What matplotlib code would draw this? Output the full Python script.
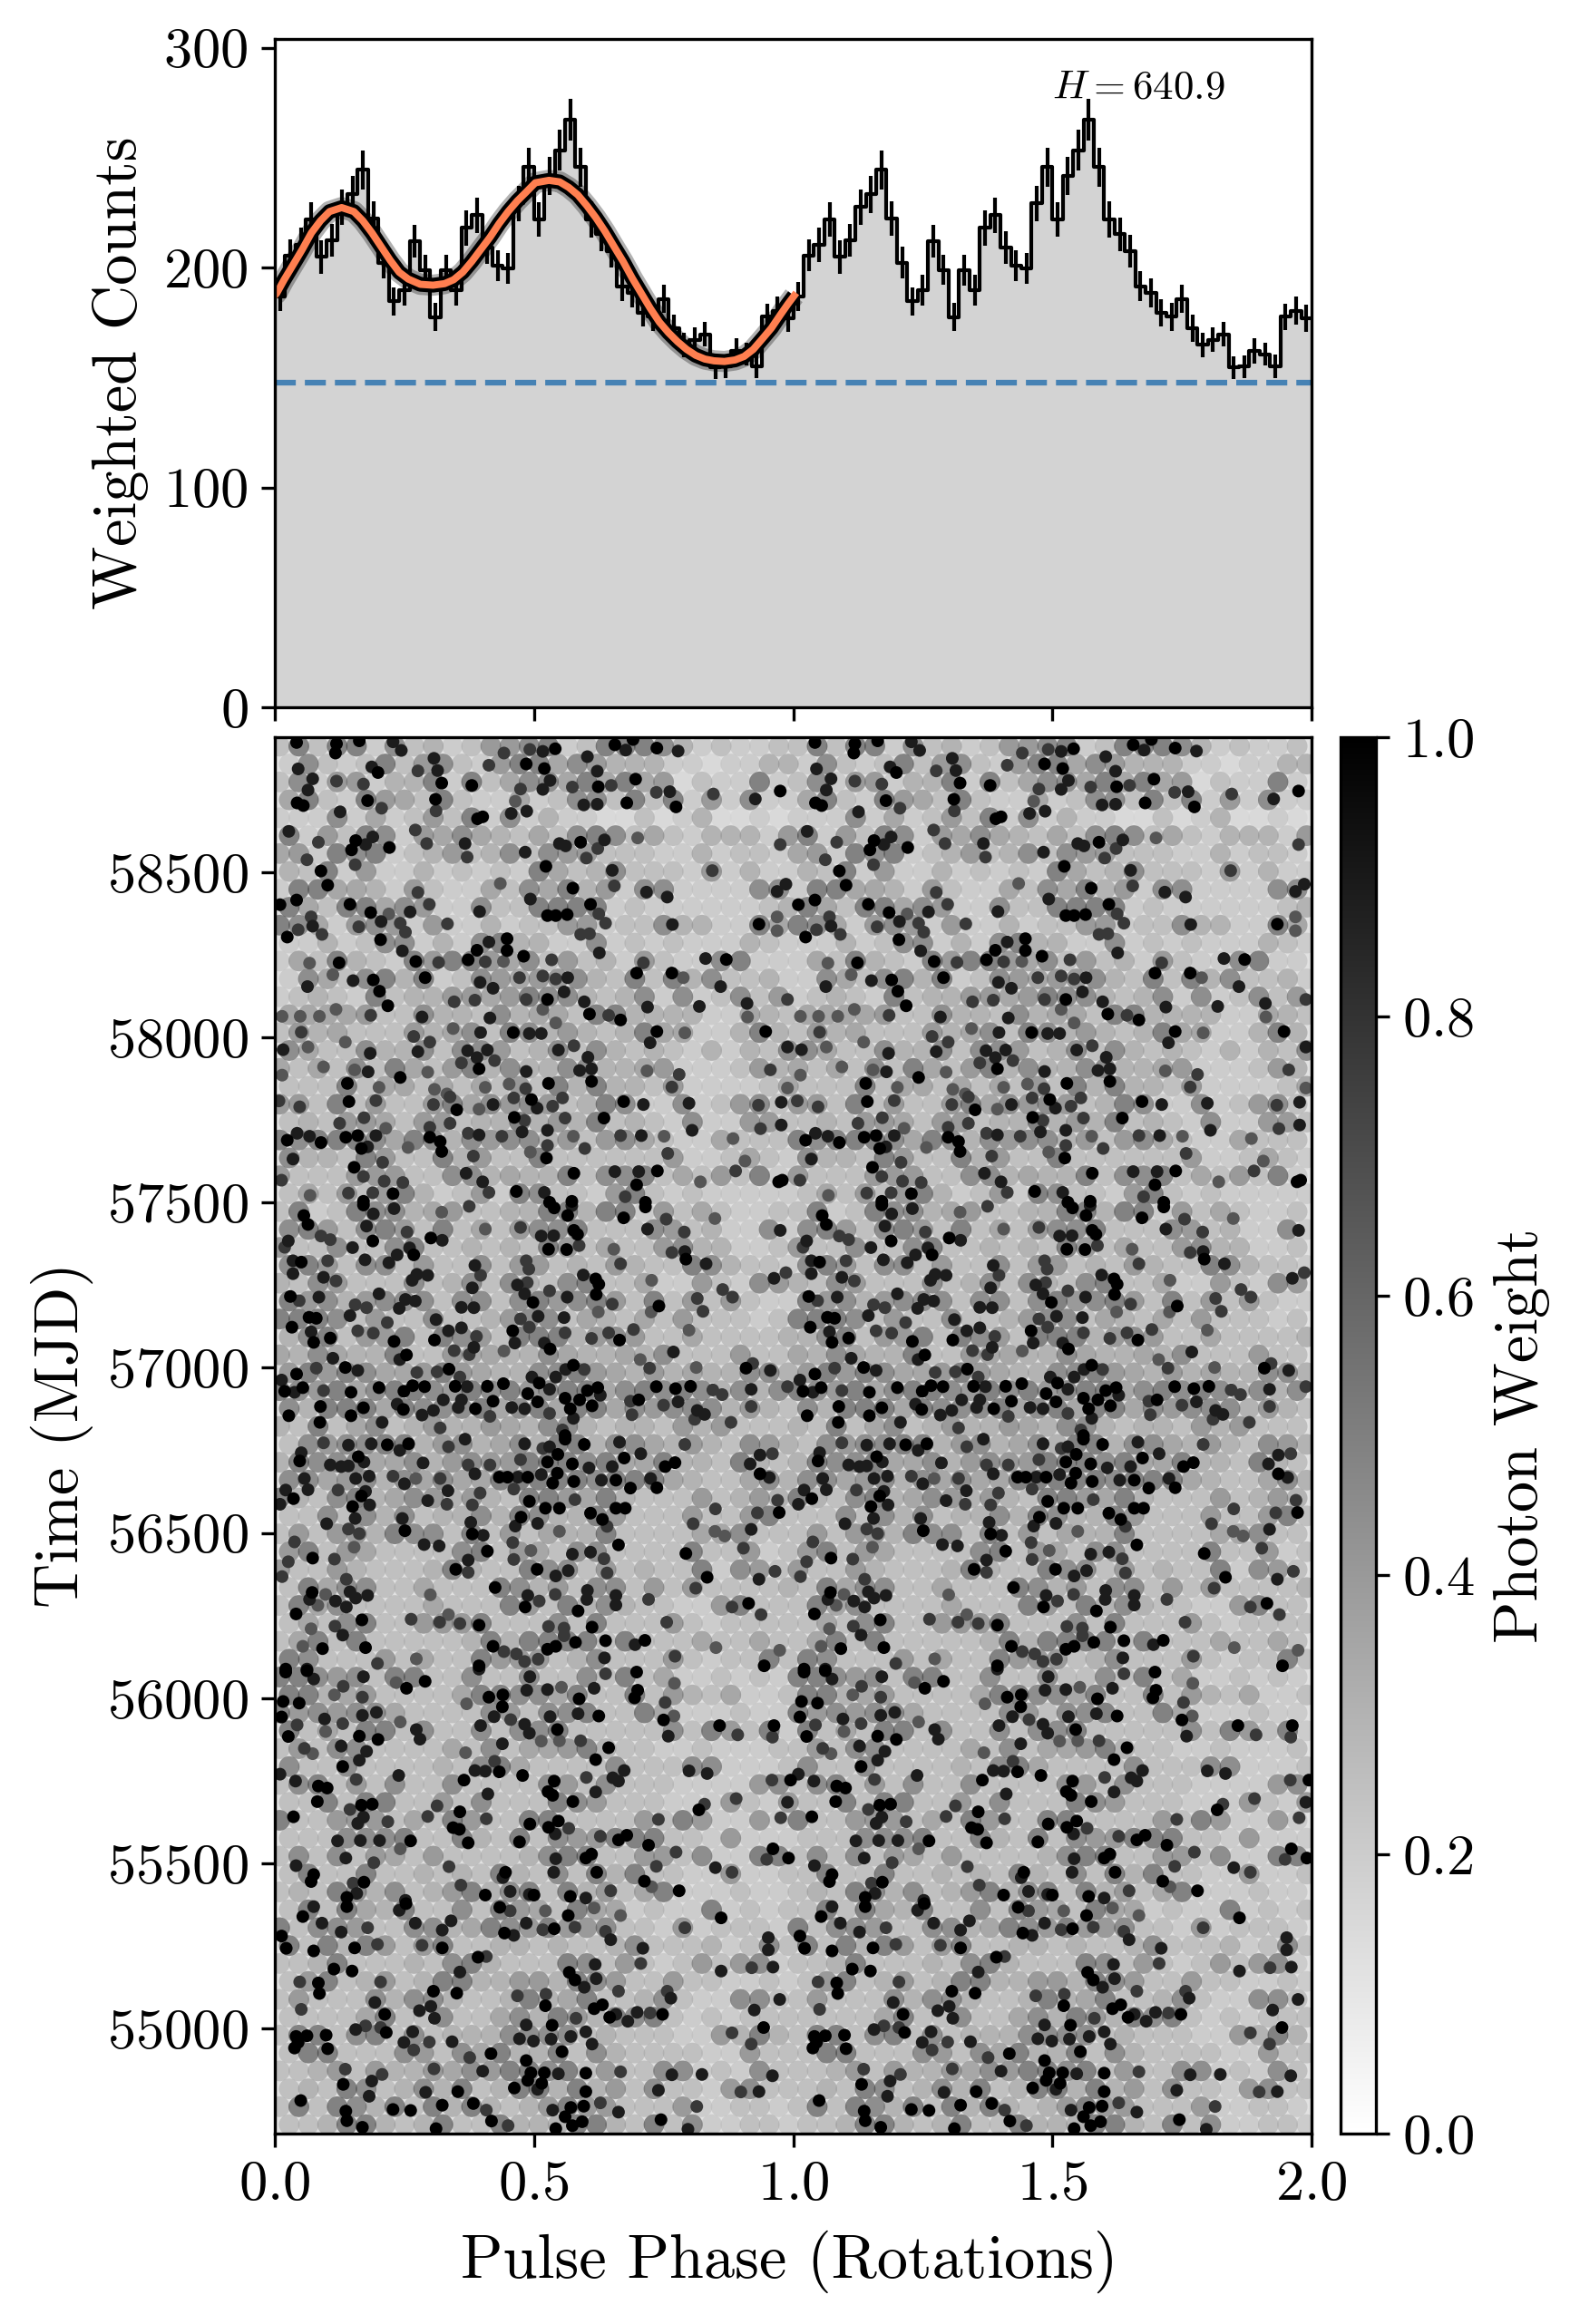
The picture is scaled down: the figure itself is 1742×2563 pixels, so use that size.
# pulse profile + photon phaseogram
import numpy as np
import matplotlib
matplotlib.use('Agg')
import matplotlib.pyplot as plt

plt.rcParams['font.family'] = 'cmr10'
plt.rcParams['mathtext.fontset'] = 'cm'
plt.rcParams['axes.formatter.use_mathtext'] = True
plt.rcParams['axes.unicode_minus'] = False

# weighted counts per bin, one rotation (50 bins), plotted twice
counts = [186.9, 205.5, 210.3, 221.9, 204.8, 212.4, 227.5, 233.3, 244.5, 222.2,
          202.3, 184.6, 189.7, 212.0, 199.0, 177.5, 199.0, 189.9, 218.0, 223.8,
          209.0, 200.7, 199.6, 229.2, 245.7, 221.8, 241.7, 253.3, 267.2, 245.7,
          221.9, 215.2, 207.6, 191.5, 188.7, 179.3, 177.7, 185.8, 172.5, 164.9,
          167.2, 169.7, 154.5, 155.0, 162.1, 160.5, 155.2, 177.7, 180.3, 177.0]
errs = [6.7, 7.2, 7.9, 7.9, 7.5, 7.5, 8.1, 8.3, 8.9, 7.9,
        7.2, 6.4, 7.0, 7.4, 6.7, 6.4, 7.0, 7.0, 7.9, 8.1,
        7.4, 7.0, 7.0, 8.1, 8.9, 7.9, 8.7, 9.3, 9.5, 9.0,
        8.3, 7.7, 7.4, 6.9, 6.6, 6.2, 6.4, 6.4, 6.2, 5.5,
        5.6, 5.6, 5.2, 5.2, 5.6, 5.2, 5.4, 6.0, 6.4, 6.2]
background = 147.7
h_text = r'$H = 640.9$'

# template fit
fit_phase = [0.0, 0.0035, 0.018, 0.0356, 0.053, 0.0706, 0.0881, 0.1056, 0.129, 0.1524,
             0.1699, 0.1874, 0.2049, 0.2224, 0.2399, 0.2574, 0.2807, 0.3053, 0.3275, 0.345,
             0.3625, 0.38, 0.3975, 0.4151, 0.4326, 0.4501, 0.4676, 0.4851, 0.5026, 0.5289,
             0.5494, 0.5669, 0.5844, 0.6019, 0.6194, 0.6369, 0.6544, 0.6719, 0.6895, 0.707,
             0.7245, 0.742, 0.7595, 0.777, 0.7945, 0.812, 0.8296, 0.8471, 0.8674, 0.8879,
             0.9054, 0.923, 0.9405, 0.958, 0.9755, 0.99, 1.0018]
fit_counts = [187.4, 188.3, 194.5, 201.4, 208.3, 215.8, 221.3, 225.5, 227.3, 225.5,
              221.3, 215.8, 209.6, 203.4, 197.9, 194.8, 192.4, 192.0, 192.7, 194.5,
              197.9, 202.8, 208.3, 213.8, 220.0, 225.5, 230.3, 234.4, 238.6, 239.7,
              239.0, 236.5, 233.1, 228.2, 222.7, 216.5, 209.6, 202.8, 195.2, 188.3,
              181.4, 175.2, 170.4, 166.3, 162.8, 160.1, 158.4, 157.6, 157.3, 158.0,
              159.6, 162.8, 167.6, 172.5, 178.6, 183.5, 187.2]

# faint photons: estimated weight per cell (digit/9), top row = latest MJD, one rotation
weight_rows = [
    "494993845347789349998534334", "384349478437996875553323355", "483773559394688696967243393",
    "694397649433634884949373833", "333836347493835332242352232", "937498376865464898464355537",
    "673989345745848774443353443", "549373353434396458444373533", "399665374336486957388333388",
    "964996873384499993433333345", "986378737335344773448553396", "335348835389553383434333543",
    "364954397997684745374338933",
    "386489593487677854949584453", "345439455776798854583834847", "666674485548566499555533654",
    "475644475684985754596633595", "864485584887458485454353548", "646484964795855885567333475",
    "444946646464749595547333346", "774947447968787459833834784", "454776477455957594543833774",
    "989998698587885747864336444", "855497449574494444447334643", "744477744885655948894647493",
    "464747953473984437943433333",
    "493498856744559959937464334", "897489749464788944487453383", "744844894454549746447855334",
    "897488474484774547544985443", "548744484584854894463374387", "978578884884897897494747433",
    "999847448445788465464744434", "589477949874999578744644445", "658655944766558655658444744",
    "797986679765588976575655885", "987968998798978996898985858", "859996988896896996878885754",
    "549468457557658854554757444",
    "487889957856859958865754875", "598896685787799989669554954", "886785868669999989996544685",
    "954895687575499769544474575", "448485845585985597444744794", "474775988494746559444466844",
    "794764444894764884444944734", "744754445954498847454493874", "496884464449857488474744445",
    "496844446444974958544337944", "464894477794448494447434444", "469494444459599994944464464",
    "984447464497774584447434494",
    "998784994484484484946334343", "995674444699886944947546334", "978788644448748894496333433",
    "946499484484889444448497493", "474884444648466795443343334", "844844445489644448444883334",
    "489474844844448748444333378", "449499447484449874443337437", "944777464974499444474973373",
    "444888944954948779994437333", "484847647444458994477483399", "494494454549548495944337334",
    "454985845795894957469333433",
    "494965944849764966343393434", "948874488569879778443734443", "949597479445545445844453484",
    "445944454895444984743474783", "479457459955775987447443343", "474448588544595694458433884",
    "444469448446859759894343444", "499489484555888845444337595", "499444874869559485444433744",
    "445747557687998947448834384", "454984585945995957484437844", "494985949595457977444733443",
    "445995459449555995494833443",
]

# bright photons read one by one: phase*1000, MJD, weight digit (x/9)
photons_58200 = [42,58893,9, 119,58889,9, 117,58861,9, 163,58898,9, 228,58895,8, 244,58869,8, 307,58845,8, 45,58813,8,
    73,58783,8, 64,58749,8, 199,58802,9, 187,58819,8, 119,58776,7, 171,58767,7, 314,58808,8, 276,58807,7, 322,58770,9,
    380,58763,9, 310,58721,9, 179,58717,9, 43,58710,9, 55,58702,9, 126,58683,8, 206,58694,7, 311,58686,7, 401,58668,9,
    391,58662,9, 413,58824,7, 442,58861,7, 485,58828,9, 520,58814,9, 517,58866,8, 541,58874,9, 492,58872,7, 603,58850,8,
    656,58886,9, 691,58902,9, 677,58870,8, 737,58876,9, 778,58867,8, 622,58806,8, 696,58782,9, 624,58759,9, 531,58778,8,
    517,58751,8, 474,58752,7, 649,58763,7, 574,58758,7, 679,58710,9, 596,58704,8, 622,58706,8, 774,58698,9, 762,58744,8,
    736,58742,7, 846,58737,7, 927,58722,8, 975,58746,9, 456,58678,8, 486,58685,8, 464,58715,6, 27,58624,8, 156,58596,9,
    189,58607,8, 175,58584,8, 148,58568,9, 221,58575,9, 84,58591,7, 62,58538,7, 89,58504,9, 155,58523,7, 102,58461,9,
    42,58416,9, 10,58402,9, 145,58403,9, 367,58587,8, 271,58628,7, 293,58587,7, 371,58546,7, 483,58561,8, 523,58518,9,
    549,58587,8, 561,58580,8, 590,58591,9, 636,58598,8, 623,58572,7, 601,58543,7, 651,58506,8, 655,58459,7, 575,58452,9,
    435,58466,6, 717,58440,8, 757,58425,8, 969,58442,8, 986,58464,8, 975,58584,7, 844,58505,7, 700,58604,6, 276,58439,7,
    298,58403,7, 261,58380,8, 185,58378,9, 205,58351,8, 220,58374,6, 70,58365,7, 73,58337,8, 45,58326,7, 24,58304,9,
    91,58312,7, 162,58335,7, 204,58296,9, 242,58346,7, 252,58319,7, 246,58262,8, 333,58344,7, 395,58381,8, 493,58419,8,
    609,58403,9, 526,58369,9, 542,58369,9, 564,58372,9, 625,58374,7, 638,58346,7, 590,58312,7, 607,58314,7, 767,58342,8,
    934,58343,9, 969,58365,6, 969,58323,6, 448,58299,9, 448,58263,9, 413,58289,8, 390,58264,9, 480,58246,9, 373,58235,9,
    406,58229,7, 441,58230,6, 272,58230,9, 124,58226,9, 67,58225,6, 316,58227,7, 534,58235,7, 626,58256,8, 711,58226,7,
    831,58239,8, 871,58236,9]
photons_57500 = [63,58154,8, 151,58172,8, 190,58174,9, 290,58181,9, 396,58167,8, 421,58149,8, 472,58181,7, 517,58186,7,
    565,58181,8, 542,58177,7, 698,58195,9, 766,58195,9, 788,58181,6, 860,58154,8, 112,58190,6, 202,58140,9, 218,58096,9,
    346,58108,7, 386,58113,7, 485,58115,7, 526,58115,9, 558,58138,8, 597,58108,8, 719,58092,8, 819,58094,8, 911,58103,8,
    989,58115,7, 14,58064,6, 49,58064,6, 86,58064,6, 118,58085,6, 185,58067,7, 284,58062,8, 415,58059,8, 517,58085,6,
    542,58044,6, 607,58071,9, 644,58067,7, 667,58053,9, 912,58062,6, 51,58016,7, 136,57986,6, 299,57986,7, 268,58003,7,
    344,58027,6, 397,58015,8, 460,58015,9, 491,58012,8, 514,58012,8, 577,57975,7, 737,58018,9, 791,58014,6, 947,58018,9,
    724,57984,8, 16,57963,8, 64,57971,6, 184,57952,8, 276,57957,8, 372,57960,8, 410,57962,8, 390,57939,8, 424,57930,7,
    547,57962,8, 604,57940,8, 989,57971,8, 94,57911,6, 180,57896,8, 154,57902,6, 242,57879,9, 394,57905,9, 360,57923,7,
    485,57897,8, 588,57900,8, 611,57905,8, 780,57888,7, 718,57899,6, 956,57902,7, 14,57886,6, 295,57895,6, 140,57861,9,
    201,57849,6, 406,57849,6, 452,57859,6, 484,57845,7, 528,57861,9, 611,57867,9, 766,57850,7, 308,57843,6, 332,57829,6,
    989,57847,6, 143,57806,9, 195,57809,7, 48,57790,7, 8,57808,7, 306,57797,7, 338,57820,7, 351,57781,9, 421,57797,8,
    394,57783,6, 461,57817,7, 495,57812,9, 506,57786,8, 555,57817,7, 536,57792,7, 673,57806,9, 711,57797,8, 799,57801,8,
    933,57795,7, 977,57804,8, 172,57757,7, 125,57740,7, 462,57758,9, 482,57749,7, 560,57756,7, 635,57756,9, 338,57740,7,
    299,57728,7, 214,57725,6, 977,57735,8, 805,57719,8, 937,57724,7, 24,57689,9, 43,57710,8, 67,57701,8, 89,57682,9,
    137,57698,9, 160,57703,9, 195,57703,8, 299,57698,9, 319,57685,9, 167,57664,9, 179,57669,8, 257,57667,6, 394,57705,8,
    438,57701,7, 477,57714,8, 526,57719,8, 576,57701,6, 667,57703,7, 707,57703,8, 751,57701,6, 884,57694,6, 526,57673,7,
    598,57664,7, 373,57710,7, 35,57632,8, 322,57655,9, 208,57622,7, 153,57607,9, 383,57641,7, 493,57653,6, 524,57635,9,
    758,57649,7, 907,57626,6, 13,57568,7, 171,57579,7, 211,57565,7, 247,57561,7, 369,57589,8, 401,57563,8, 577,57589,9,
    656,57594,8, 702,57594,8, 738,57596,9, 889,57596,7, 821,57563,6, 972,57563,9, 979,57568,9, 68,57522,6, 142,57529,7,
    189,57530,7, 228,57527,9, 413,57531,7, 466,57534,9, 520,57531,8, 698,57554,9, 676,57518,7, 171,57504,9, 530,57501,9,
    573,57504,9, 715,57501,9]
photons_56800 = [56,57461,9, 171,57493,9, 190,57466,8, 230,57482,8, 322,57471,6, 375,57489,7, 539,57484,9, 565,57461,9,
    573,57491,8, 673,57454,9, 715,57487,9, 755,57450,7, 849,57452,6, 64,57434,9, 177,57429,8, 255,57411,7, 301,57393,9,
    323,57386,8, 406,57420,6, 474,57425,7, 514,57399,8, 538,57400,8, 577,57416,9, 584,57404,9, 719,57420,8, 790,57411,7,
    975,57416,8, 26,57384,8, 89,57399,7, 107,57388,7, 189,57384,9, 150,57364,8, 260,57363,8, 268,57342,9, 236,57342,8,
    528,57359,9, 563,57358,9, 587,57370,7, 654,57359,6, 766,57349,7, 791,57352,8, 19,57365,7, 51,57320,9, 35,57324,8,
    174,57327,8, 220,57318,8, 102,57324,7, 386,57310,8, 485,57324,7, 793,57329,9, 832,57315,8, 667,57315,7, 490,57299,7,
    295,57280,8, 274,57283,8, 35,57285,8, 94,57274,8, 118,57263,7, 265,57265,8, 397,57280,7, 468,57251,8, 487,57258,7,
    595,57281,8, 619,57269,9, 625,57253,9, 381,57242,8, 727,57265,6, 963,57271,8, 986,57288,7, 864,57237,7, 30,57216,9,
    85,57214,8, 47,57203,7, 201,57224,8, 155,57191,7, 177,57182,7, 252,57207,8, 271,57202,8, 240,57180,8, 360,57183,8,
    384,57182,8, 482,57224,8, 498,57198,9, 530,57233,7, 564,57214,8, 620,57222,9, 651,57193,7, 741,57187,9, 815,57210,7,
    883,57214,7, 66,57153,9, 80,57150,9, 145,57158,8, 217,57137,7, 311,57146,8, 508,57156,8, 558,57152,8, 624,57169,6,
    474,57148,7, 826,57171,7, 726,57169,6, 33,57123,9, 70,57109,8, 75,57077,9, 107,57090,9, 160,57112,7, 190,57105,7,
    230,57080,9, 308,57084,9, 335,57112,8, 360,57121,8, 389,57095,7, 384,57062,8, 459,57112,9, 463,57075,8, 491,57123,7,
    560,57106,7, 611,57089,7, 665,57084,9, 644,57106,7, 692,57116,7, 520,57075,8, 531,57057,9, 799,57114,6, 112,57029,8,
    241,57025,8, 254,57039,9, 346,57052,7, 375,57040,7, 442,57051,6, 769,57048,8, 705,57025,6, 922,57013,7, 909,56999,9,
    42,56981,9, 80,56999,7, 136,57001,9, 160,56992,8, 274,56986,7, 313,56988,7, 336,56996,9, 576,57008,9, 542,56972,8,
    561,56995,8, 723,56999,7, 813,57001,6, 956,56992,8, 496,56972,8, 597,56995,7, 13,56963,8, 357,56972,7, 19,56929,9,
    54,56940,9, 38,56926,8, 94,56931,7, 147,56926,9, 201,56940,9, 249,56929,9, 266,56946,9, 289,56943,9, 348,56944,9,
    371,56943,8, 410,56944,9, 441,56952,9, 510,56954,9, 488,56922,9, 530,56935,8, 588,56903,9, 623,56940,9, 603,56931,9,
    736,56943,9, 773,56937,9, 802,56944,9, 863,56919,7, 845,56933,7, 919,56935,8, 989,56943,7, 325,56903,8, 360,56903,8,
    421,56899,9, 560,56908,9, 628,56917,8, 702,56903,9, 686,56899,7, 88,56883,9, 27,56855,9, 147,56855,9, 171,56879,9,
    248,56874,9, 236,56890,8, 284,56857,8, 306,56871,8, 387,56876,9, 457,56880,8, 507,56897,9, 570,56876,9, 612,56885,9,
    354,56880,8, 778,56897,8, 750,56887,7, 689,56858,7, 815,56871,8, 829,56859,8, 919,56883,7, 482,56876,8, 530,56862,7,
    87,56835,9, 207,56835,8, 319,56818,7, 415,56853,7, 576,56847,8, 810,56844,7, 880,56835,7, 560,56795,9, 555,56812,7]
photons_56100 = [51,56743,8, 94,56773,7, 142,56766,8, 186,56770,8, 217,56767,9, 258,56770,9, 241,56750,8, 335,56761,7,
    367,56784,8, 482,56770,8, 530,56761,8, 560,56784,9, 597,56768,9, 665,56775,8, 706,56740,8, 791,56768,7, 936,56736,8,
    960,56740,7, 546,56738,9, 517,56756,7, 48,56718,9, 107,56706,8, 128,56701,8, 142,56703,8, 172,56715,8, 161,56731,9,
    286,56712,8, 373,56706,7, 386,56679,8, 415,56706,7, 474,56722,7, 526,56715,9, 574,56709,9, 606,56697,8, 651,56701,8,
    674,56727,9, 753,56701,9, 772,56713,9, 917,56709,8, 936,56679,9, 57,56665,8, 21,56630,8, 64,56631,8, 156,56665,8,
    182,56672,8, 228,56672,7, 250,56649,8, 272,56665,6, 319,56665,7, 433,56669,9, 449,56669,9, 469,56669,8, 488,56669,9,
    514,56677,8, 545,56681,9, 536,56651,9, 577,56656,9, 630,56660,8, 658,56660,9, 686,56636,9, 725,56665,8, 737,56637,9,
    954,56668,8, 122,56630,7, 334,56628,8, 461,56633,7, 36,56604,9, 167,56612,9, 175,56626,8, 150,56580,9, 183,56585,8,
    10,56587,8, 295,56598,8, 332,56587,7, 396,56621,7, 491,56596,9, 381,56585,7, 579,56601,7, 522,56575,9, 549,56575,9,
    658,56575,9, 676,56575,9, 850,56573,7, 970,56599,7, 100,56528,8, 155,56544,8, 246,56544,8, 475,56548,9, 464,56521,8,
    507,56529,8, 609,56560,9, 632,56541,9, 973,56562,9, 807,56528,7, 378,56532,8, 931,56561,7, 641,56520,7, 142,56512,7,
    163,56498,7, 251,56507,9, 381,56497,9, 38,56473,7, 402,56493,8, 459,56471,7, 549,56505,6, 663,56464,9, 288,56465,8,
    317,56461,8, 919,56511,8, 849,56505,6, 868,56491,6, 153,56457,6, 73,56424,9, 115,56421,7, 26,56413,7, 410,56445,9,
    574,56436,8, 609,56442,8, 373,56418,8, 461,56420,7, 793,56438,9, 904,56454,7, 494,56447,6, 635,56422,7, 14,56368,7,
    138,56360,7, 349,56390,9, 506,56390,9, 566,56386,8, 542,56370,8, 641,56379,7, 834,56366,9, 934,56360,8, 965,56384,7,
    373,56381,7, 72,56320,9, 67,56299,8, 98,56314,6, 117,56294,8, 145,56322,8, 179,56311,8, 156,56303,8, 425,56335,9,
    300,56313,6, 488,56311,8, 541,56314,7, 603,56326,8, 658,56311,8, 721,56299,7, 812,56333,7, 41,56255,9, 138,56276,8,
    83,56281,6, 483,56276,9, 585,56264,9, 602,56299,8, 658,56282,8, 914,56287,9, 882,56276,7, 938,56253,7, 335,56253,6,
    510,56294,7, 168,56237,9, 263,56239,7, 116,56218,7, 70,56210,6, 131,56191,8, 318,56230,7, 357,56226,7, 394,56221,9,
    528,56217,7, 558,56212,7, 612,56215,9, 756,56230,7, 92,56150,9, 175,56153,9, 54,56157,6, 421,56157,9, 580,56169,9,
    638,56174,9, 542,56157,9, 526,56148,9, 695,56162,8, 714,56175,9, 851,56153,6, 974,56145,6, 558,56189,7, 394,56098,9,
    442,56141,7, 466,56134,7, 508,56118,7, 636,56122,8, 772,56127,7, 21,56088,9, 62,56088,8, 198,56105,7, 273,56119,6,
    482,56111,7, 944,56098,9]
photons_55400 = [21,56079,9, 62,56083,9, 75,56058,8, 132,56036,7, 171,56065,8, 234,56047,6, 254,56030,9, 290,56051,9,
    492,56065,8, 616,56030,8, 638,56074,7, 698,56079,9, 771,56045,6, 394,56088,8, 16,55990,9, 47,55985,9, 169,56003,7,
    115,56010,6, 413,56003,9, 440,56010,9, 439,55974,9, 486,56024,8, 526,56026,8, 587,55998,9, 694,56001,9, 700,56024,9,
    753,55987,7, 370,55983,6, 553,56033,6, 96,55937,8, 43,55919,7, 13,55943,9, 131,55923,7, 169,55948,8, 196,55957,8,
    242,55928,6, 423,55944,8, 455,55935,7, 531,55944,8, 585,55953,8, 625,55946,9, 750,55934,9, 770,55946,6, 26,55884,9,
    98,55899,6, 163,55885,9, 199,55875,9, 273,55905,8, 280,55876,8, 397,55917,8, 482,55921,8, 491,55894,8, 545,55905,9,
    759,55885,8, 858,55917,9, 963,55917,9, 893,55889,7, 960,55882,7, 57,55848,7, 128,55855,8, 73,55832,6, 177,55839,8,
    163,55812,8, 439,55862,8, 368,55835,6, 514,55870,6, 549,55871,6, 590,55871,7, 619,55814,9, 644,55850,9, 131,55793,9,
    10,55770,8, 386,55781,8, 406,55779,8, 433,55777,9, 478,55766,9, 424,55809,7, 799,55780,8, 834,55772,8, 674,55781,8,
    40,55749,8, 84,55734,9, 101,55728,9, 157,55754,7, 239,55766,8, 365,55752,9, 539,55749,9, 652,55759,8, 663,55749,8,
    601,55760,7, 959,55752,7, 995,55752,9, 82,55687,9, 167,55676,9, 188,55679,9, 411,55710,8, 527,55717,9, 536,55706,9,
    575,55687,9, 619,55716,8, 890,55696,7, 989,55685,8, 313,55674,7, 36,55641,9, 145,55663,7, 171,55640,8, 160,55621,8,
    218,55626,7, 357,55656,9, 295,55642,7, 408,55635,7, 547,55628,9, 528,55609,9, 492,55619,9, 818,55662,9, 829,55679,7,
    740,55633,7, 976,55638,7, 541,55589,8, 344,55608,9, 356,55603,9, 121,55568,8, 165,55569,8, 202,55569,8, 262,55568,9,
    373,55562,9, 472,55565,9, 663,55571,9, 679,55585,9, 721,55555,9, 567,55606,7, 628,55582,7, 41,55493,8, 137,55516,8,
    191,55502,7, 242,55544,6, 336,55490,7, 542,55514,8, 600,55516,9, 611,55528,9, 774,55534,7, 736,55491,7, 850,55487,8,
    961,55544,9, 949,55512,7, 991,55516,9, 75,55466,9, 70,55445,9, 172,55443,9, 445,55473,9, 440,55457,8, 538,55473,8,
    621,55473,9, 713,55446,9, 882,55473,7, 151,55440,7, 158,55409,8, 139,55397,9, 406,55404,9, 454,55415,8, 500,55404,9,
    570,55400,9, 600,55395,8, 359,55434,7, 648,55417,7, 780,55417,9, 252,55388,8, 727,55429,6, 491,55406,8]
photons_54700 = [54,55339,9, 75,55369,8, 139,55369,9, 240,55358,8, 253,55378,9, 340,55326,8, 434,55367,9, 454,55356,7,
    566,55342,9, 522,55356,6, 616,55365,6, 861,55335,9, 667,55342,6, 271,55319,8, 323,55298,8, 128,55292,8, 13,55280,9,
    179,55305,7, 485,55319,8, 539,55302,9, 443,55289,9, 461,55282,8, 517,55299,7, 579,55307,7, 648,55269,8, 791,55305,7,
    638,55294,7, 91,55319,8, 22,55243,9, 75,55235,9, 154,55244,9, 323,55244,9, 198,55255,7, 284,55252,7, 710,55243,8,
    952,55275,8, 952,55238,8, 114,55180,9, 149,55174,9, 392,55216,9, 357,55171,8, 408,55218,7, 618,55194,8, 568,55170,9,
    706,55197,7, 861,55174,8, 920,55184,7, 961,55186,8, 84,55138,9, 86,55106,9, 48,55141,7, 204,55141,7, 306,55113,9,
    351,55107,9, 579,55147,9, 597,55125,8, 620,55151,8, 663,55113,7, 757,55113,7, 523,55104,7, 468,55099,7, 51,55058,7,
    193,55079,8, 279,55054,8, 301,55067,8, 522,55069,9, 616,55060,9, 632,55072,9, 764,55092,8, 925,55056,8, 974,55088,8,
    212,55043,9, 308,55031,8, 646,55034,9, 658,55043,8, 748,55043,9, 699,55049,8, 681,55022,8, 535,55010,9, 485,55011,8,
    581,55031,7, 724,55047,7, 41,54976,9, 62,54978,9, 99,54980,9, 156,54997,8, 215,54988,9, 266,54990,8, 175,55008,7,
    571,54976,8, 600,54990,8, 943,55003,9, 882,54987,7, 472,54969,8, 499,54962,8, 533,54968,8, 204,55003,7, 38,54941,9,
    45,54958,9, 102,54939,9, 249,54958,8, 298,54959,7, 342,54960,8, 417,54924,9, 554,54930,9, 612,54953,8, 268,54935,7,
    919,54953,7, 136,54877,7, 207,54861,7, 307,54878,7, 401,54871,8, 485,54903,9, 494,54866,9, 520,54866,9, 547,54863,8,
    600,54865,9, 667,54869,7, 766,54860,8, 824,54861,8, 960,54857,8, 376,54912,7, 132,54831,9, 187,54841,8, 353,54809,9,
    462,54820,9, 515,54834,9, 600,54809,9, 291,54807,8, 740,54813,8, 899,54808,7, 934,54809,8, 507,54816,8, 488,54843,9,
    50,54782,9, 182,54795,8, 323,54768,9, 383,54773,9, 228,54755,9, 262,54752,9, 137,54750,9, 814,54764,7, 571,54761,9,
    596,54765,9, 663,54747,8, 408,54753,7, 628,54775,7, 536,54753,8, 139,54721,9, 169,54701,9, 418,54720,9, 560,54733,9,
    593,54718,9, 745,54724,9, 311,54697,9, 542,54697,9, 797,54695,8, 450,54706,7, 574,54706,9]

mjd_top = 58909
mjd_bottom = 54682

xticks = [0.0, 0.5, 1.0, 1.5, 2.0]
yticks_top = [0, 100, 200, 300]
yticks_bottom = [55000, 55500, 56000, 56500, 57000, 57500, 58000, 58500]
cticks = [0.0, 0.2, 0.4, 0.6, 0.8, 1.0]

# faint layer from the table
nrows = len(weight_rows)
bg_ph, bg_mjd, bg_w = [], [], []
for i, row in enumerate(weight_rows):
    mjd = mjd_top - (i + 0.5) / nrows * (mjd_top - mjd_bottom)
    shift = 0.25 if i % 2 else -0.25
    for j, d in enumerate(row):
        ph = (j + 0.5 + shift) / len(row)
        bg_ph += [ph, ph + 1]
        bg_mjd += [mjd, mjd]
        bg_w += [int(d) / 9 * 0.8] * 2
bg_ph, bg_mjd, bg_w = np.array(bg_ph), np.array(bg_mjd), np.array(bg_w)
bg_order = np.argsort(bg_w)

# bright layer, repeated for the second rotation
dots = np.array(photons_58200 + photons_57500 + photons_56800 + photons_56100
                + photons_55400 + photons_54700).reshape(-1, 3)
dot_ph = np.r_[dots[:, 0] / 1000, dots[:, 0] / 1000 + 1]
dot_mjd = np.r_[dots[:, 1], dots[:, 1]]
dot_w = np.r_[dots[:, 2], dots[:, 2]] / 9
dot_order = np.argsort(dot_w)

W, H = 1742, 2563
fig = plt.figure(figsize=(W / 300, H / 300), dpi=300)
ax_top = fig.add_axes([303 / W, 1 - 780 / H, 1143 / W, 737 / H])
ax_ph = fig.add_axes([303 / W, 1 - 2353 / H, 1143 / W, 1540 / H])
cax = fig.add_axes([1478 / W, 1 - 2353 / H, 39 / W, 1540 / H])

# profile
all_counts = np.array(counts + counts)
all_errs = np.array(errs + errs)
edges = np.linspace(0, 2, len(all_counts) + 1)
centers = 0.5 * (edges[:-1] + edges[1:])
xs = np.repeat(edges, 2)[1:-1]
ys = np.repeat(all_counts, 2)
ax_top.fill_between(xs, 0, ys, color='lightgray', lw=0)
ax_top.plot(xs, ys, color='k', lw=1)
ax_top.errorbar(centers, all_counts, yerr=all_errs, fmt='none', ecolor='k', elinewidth=1)
ax_top.axhline(background, color='steelblue', ls='--', lw=1.5)
ax_top.plot(fit_phase, fit_counts, color='k', alpha=0.3, lw=5.6, solid_capstyle='butt')
ax_top.plot(fit_phase, fit_counts, color='k', lw=3.9, solid_capstyle='butt')
ax_top.plot(fit_phase, fit_counts, color='coral', lw=1.9)
ax_top.text(1.5, 277, h_text, fontsize=10.8)
ax_top.set_xlim(0, 2)
ax_top.set_ylim(0, 304)
ax_top.set_xticks(xticks)
ax_top.set_xticklabels([])
ax_top.set_yticks(yticks_top)
ax_top.tick_params(labelsize=15)
ax_top.set_ylabel('Weighted Counts', fontsize=16.4)
ax_top.yaxis.set_label_coords(-0.122, 0.5)

# phaseogram
ax_ph.set_facecolor('#e2e2e2')
ax_ph.scatter(bg_ph[bg_order], bg_mjd[bg_order], c=bg_w[bg_order], cmap='binary', vmin=0, vmax=1,
              s=30, linewidths=0, alpha=0.55)
sc = ax_ph.scatter(dot_ph[dot_order], dot_mjd[dot_order], c=dot_w[dot_order], cmap='binary',
                   vmin=0, vmax=1, s=11.3, linewidths=0)
ax_ph.set_xlim(0, 2)
ax_ph.set_ylim(mjd_bottom, mjd_top)
ax_ph.set_xticks(xticks)
ax_ph.set_yticks(yticks_bottom)
ax_ph.tick_params(labelsize=15)
ax_ph.set_xlabel('Pulse Phase (Rotations)', fontsize=16.4)
ax_ph.xaxis.set_label_coords(0.496, -0.069)
ax_ph.set_ylabel('Time (MJD)', fontsize=16.4)
ax_ph.yaxis.set_label_coords(-0.175, 0.5)

cb = fig.colorbar(sc, cax=cax)
cb.set_ticks(cticks)
cb.ax.tick_params(labelsize=15)
cb.set_label('Photon Weight', fontsize=16.4, labelpad=5)

fig.savefig('out.png', dpi=300)
